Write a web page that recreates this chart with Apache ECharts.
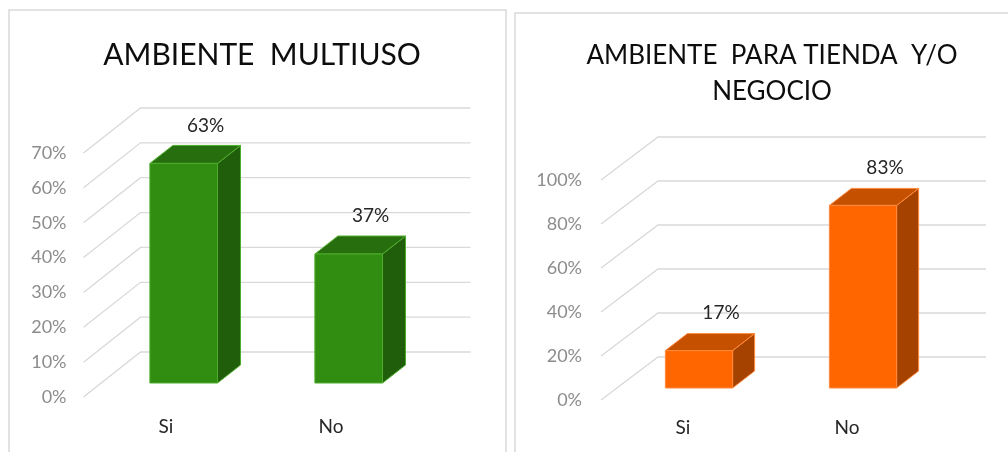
<!DOCTYPE html>
<html>
<head>
<meta charset="utf-8">
<script src="https://cdn.jsdelivr.net/npm/echarts@6/dist/echarts.min.js"></script>
<style>
  html, body { margin: 0; padding: 0; background: #fff; }
  #main { width: 1008px; height: 452px; }
</style>
</head>
<body>
<div id="main"></div>
<script>
// datos
var leftCategories = ['Si', 'No'];
var leftValues = [63, 37];
var leftTicks = [0, 10, 20, 30, 40, 50, 60, 70];

var rightCategories = ['Si', 'No'];
var rightValues = [17, 83];
var rightTicks = [0, 20, 40, 60, 80, 100];

var FONT = 'Lato';

// lineas de la grilla en "3D": pared lateral + pared del fondo
function wallItem(wall) {
    return function (params, api) {
        var cs = params.coordSys;
        var p = api.coord([0, api.value(1)]);
        var x0 = cs.x, y0 = p[1];
        return {
            type: 'polyline',
            shape: { points: [[x0, y0], [x0 + wall[0], y0 + wall[1]], [cs.x + cs.width + wall[0], y0 + wall[1]]] },
            style: { stroke: '#d9d9d9', lineWidth: 1.3, fill: null },
            silent: true
        };
    };
}

// barra con cara frontal, superior y lateral
function barItem(shift, depth, colors) {
    return function (params, api) {
        var idx = api.value(0), v = api.value(1);
        var base = api.coord([idx, 0]);
        var top = api.coord([idx, v]);
        var bw = api.size([1, 0])[0] * 0.41;
        var x0 = base[0] + shift[0] - bw / 2, x1 = x0 + bw;
        var yb = base[1] + shift[1], yt = top[1] + shift[1];
        var dx = depth[0], dy = depth[1];
        return {
            type: 'group',
            children: [
                { type: 'polygon', shape: { points: [[x1, yt], [x1 + dx, yt + dy], [x1 + dx, yb + dy], [x1, yb]] },
                  style: { fill: colors[2], stroke: colors[3], lineWidth: 1 } },
                { type: 'polygon', shape: { points: [[x0, yt], [x0 + dx, yt + dy], [x1 + dx, yt + dy], [x1, yt]] },
                  style: { fill: colors[1], stroke: colors[3], lineWidth: 1 } },
                { type: 'polygon', shape: { points: [[x0, yt], [x1, yt], [x1, yb], [x0, yb]] },
                  style: { fill: colors[0], stroke: colors[3], lineWidth: 1 } },
                { type: 'text', x: (x0 + x1) / 2 + 22, y: yt - 38,
                  style: { text: v + '%', fill: '#262626', font: '19px ' + FONT, align: 'center', verticalAlign: 'middle' } }
            ]
        };
    };
}

var green = ['#318d12', '#276f0e', '#215e0b', '#4fae2c'];
var orange = ['#ff6600', '#c55000', '#a54200', '#ff8a3d'];

var myChart = echarts.init(document.getElementById('main'));

var option = {
    animation: false,
    title: [
        { text: 'AMBIENTE  MULTIUSO', left: 257, top: 35, textAlign: 'center',
          textStyle: { fontFamily: FONT, fontSize: 30, fontWeight: 'normal', color: '#0d0d0d' } },
        { text: 'AMBIENTE  PARA TIENDA  Y/O\nNEGOCIO', left: 767, top: 33, textAlign: 'center',
          textStyle: { fontFamily: FONT, fontSize: 26, fontWeight: 'normal', color: '#0d0d0d', lineHeight: 36 } }
    ],
    graphic: [
        { type: 'rect', shape: { x: 9, y: 10, width: 497, height: 460 }, style: { fill: null, stroke: '#d9d9d9', lineWidth: 1.5 }, silent: true },
        { type: 'rect', shape: { x: 515, y: 13, width: 500, height: 460 }, style: { fill: null, stroke: '#d9d9d9', lineWidth: 1.5 }, silent: true }
    ],
    grid: [
        { left: 83.5, top: 153, width: 330, height: 244 },
        { left: 601, top: 180, width: 328, height: 220 }
    ],
    xAxis: [
        { type: 'category', gridIndex: 0, data: leftCategories,
          axisLine: { show: false }, axisTick: { show: false },
          axisLabel: { margin: 20, color: '#262626', fontFamily: FONT, fontSize: 19 } },
        { type: 'category', gridIndex: 1, data: rightCategories,
          axisLine: { show: false }, axisTick: { show: false },
          axisLabel: { margin: 18, color: '#262626', fontFamily: FONT, fontSize: 19 } }
    ],
    yAxis: [
        { type: 'value', gridIndex: 0, min: 0, max: 70, interval: 10,
          splitLine: { show: false }, axisLine: { show: false }, axisTick: { show: false },
          axisLabel: { formatter: '{value}%', margin: 17, color: '#8c8c8c', fontFamily: FONT, fontSize: 18 } },
        { type: 'value', gridIndex: 1, min: 0, max: 100, interval: 20,
          splitLine: { show: false }, axisLine: { show: false }, axisTick: { show: false },
          axisLabel: { formatter: '{value}%', margin: 19, color: '#8c8c8c', fontFamily: FONT, fontSize: 18 } }
    ],
    series: [
        { type: 'custom', xAxisIndex: 0, yAxisIndex: 0, renderItem: wallItem([57, -45]),
          data: leftTicks.map(function (t) { return [0, t]; }), encode: { x: 0, y: 1 }, z: 1 },
        { type: 'custom', xAxisIndex: 1, yAxisIndex: 1, renderItem: wallItem([57, -43]),
          data: rightTicks.map(function (t) { return [0, t]; }), encode: { x: 0, y: 1 }, z: 1 },
        { type: 'custom', xAxisIndex: 0, yAxisIndex: 0, renderItem: barItem([17.7, -14], [23, -18], green),
          data: leftValues.map(function (v, i) { return [i, v]; }), encode: { x: 0, y: 1 }, z: 2 },
        { type: 'custom', xAxisIndex: 1, yAxisIndex: 1, renderItem: barItem([16, -12], [22, -17], orange),
          data: rightValues.map(function (v, i) { return [i, v]; }), encode: { x: 0, y: 1 }, z: 2 }
    ]
};

myChart.setOption(option);
</script>
</body>
</html>
